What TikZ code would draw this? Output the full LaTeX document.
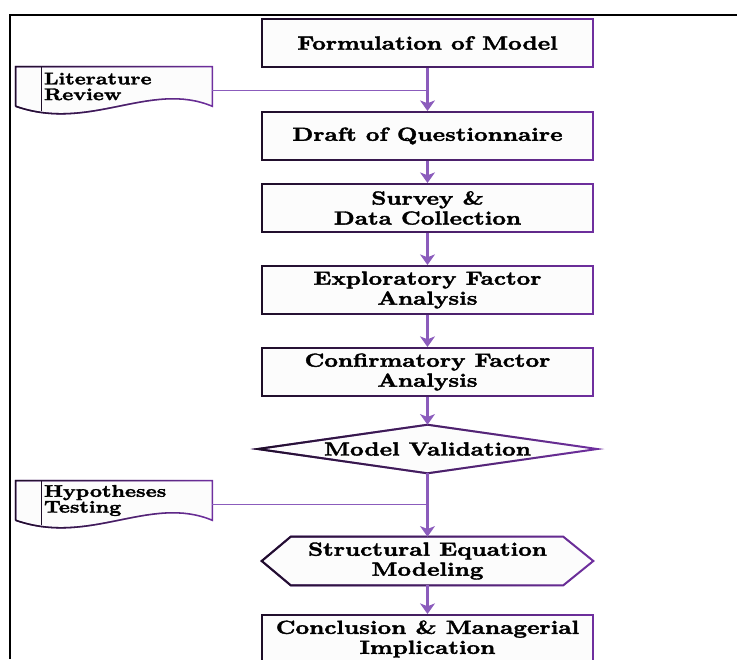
\documentclass[tikz,border=0pt]{standalone}
\usepackage{fontspec}
\usetikzlibrary{arrows.meta,backgrounds,fadings}

\newfontfamily\flowfont[Extension=.otf,FakeStretch=1.25,FakeBold=2]{lmroman10-bold}

\definecolor{boxline}{HTML}{7030A0}
\definecolor{boxdark}{HTML}{1E0E28}
\definecolor{arrowpurple}{HTML}{8B5CBC}
\definecolor{boxfill}{HTML}{FCFCFC}

\tikzset{
  stage/.style={draw=boxline, fill=boxfill, line width=1.4pt, minimum width=8.275cm, minimum height=1.2cm,
    inner sep=0pt, align=center, font=\flowfont\fontsize{13.5}{14.2}\selectfont,
    postaction={draw=boxdark, line width=1.4pt, path fading=east}},
  bare/.style={minimum width=8.275cm, minimum height=1.2cm, inner sep=0pt, align=center,
    font=\flowfont\fontsize{13.5}{14.2}\selectfont},
  outline/.style={draw=boxline, fill=boxfill, line width=1.4pt, line join=miter,
    postaction={draw=boxdark, line width=1.4pt, path fading=east}},
  docframe/.style={draw=boxline, fill=boxfill, line width=1.1pt,
    postaction={draw=boxdark, line width=1.1pt, path fading=east}},
  note/.style={minimum width=4.9cm, minimum height=0.975cm, text width=3.5cm, inner xsep=0.7cm,
    inner ysep=0pt, align=left, font=\flowfont\fontsize{12}{11.2}\selectfont},
  flow/.style={draw=arrowpurple, line width=2.2pt, -{Stealth[length=7.5pt,width=10.5pt,inset=2pt]}},
  tap/.style={draw=arrowpurple, line width=1pt}
}

\begin{document}
\begin{tikzpicture}[x=0.025cm,y=-0.025cm]
\useasboundingbox (0,0) rectangle (737,659);

% frame
\draw[line width=1.5pt] (10,659) -- (10,15) -- (737,15);

% main column
\node[stage] (form) at (427.5,43) {Formulation of Model};
\node[stage] (draft) at (427.5,136) {Draft of Questionnaire};
\node[stage] (survey) at (427.5,208) {Survey \&\\Data Collection};
\node[stage] (efa) at (427.5,290) {Exploratory Factor\\Analysis};
\node[stage] (cfa) at (427.5,372) {Confirmatory Factor\\Analysis};
\node[bare, minimum width=8.475cm] (val) at (427.5,449) {Model Validation};
\node[bare] (sem) at (427.5,561) {Structural Equation\\Modeling};
\node[stage] (concl) at (427.5,639) {Conclusion \& Managerial\\Implication};

% side notes
\node[note] (lit) at (114,86.5) {Literature\\Review};
\node[note] (hyp) at (114,500.5) {Hypotheses\\Testing};

\begin{scope}[on background layer]
\draw[outline] (val.west) -- (val.north) -- (val.east) -- (val.south) -- cycle;
\draw[outline] (sem.west) -- ([shift={(29,0)}]sem.north west) -- ([shift={(-30,0)}]sem.north east)
  -- (sem.east) -- ([shift={(-30,0)}]sem.south east) -- ([shift={(29,0)}]sem.south west) -- cycle;
\foreach \d in {lit,hyp} {
  \draw[docframe] (\d.south west) -- (\d.north west) -- (\d.north east) -- (\d.south east)
    .. controls +(-62,-26) and +(74,26) .. (\d.south west);
  \draw[boxdark, line width=1.1pt] ([shift={(26,0)}]\d.north west) -- ++(0,44);
}
\end{scope}

% connectors
\draw[flow] (form) -- (draft);
\draw[flow] (draft) -- (survey);
\draw[flow] (survey) -- (efa);
\draw[flow] (efa) -- (cfa);
\draw[flow] (cfa) -- (val);
\draw[flow] (val) -- (sem);
\draw[flow] (sem) -- (concl);
\draw[tap] ([yshift=-3pt]lit.east) -- ([yshift=-3pt]lit.east -| form.south);
\draw[tap] ([yshift=-3pt]hyp.east) -- ([yshift=-3pt]hyp.east -| val.south);

\end{tikzpicture}
\end{document}
